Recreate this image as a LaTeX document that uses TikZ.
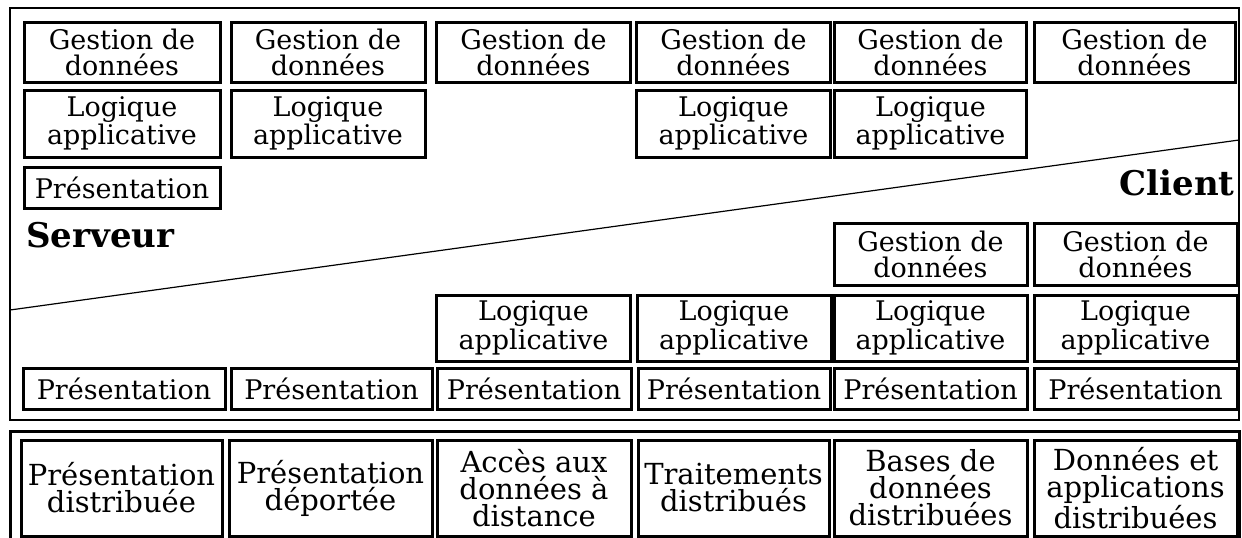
\documentclass[tikz,border=0pt]{standalone}
\usepackage{fontspec}
\setmainfont{DejaVu Serif}

\begin{document}
\begin{tikzpicture}[x=0.5pt, y=-0.5pt,
	every node/.style={inner sep=0pt, align=center, font=\fontsize{13.5}{13}\selectfont},
	tier/.style={draw, line width=1.5pt, minimum width=97pt},
	gest/.style={tier, minimum height=30pt},
	logi/.style={tier, minimum height=33.5pt},
	pres/.style={tier, minimum height=20.5pt},
	mode/.style={tier, minimum height=48pt, font=\fontsize{14.5}{13.5}\selectfont},
	side/.style={font=\fontsize{17}{20}\selectfont\bfseries}]
	\useasboundingbox (0,0) rectangle (1242,537);

	% cadre du haut et separation serveur / client
	\draw[line width=0.8pt] (10,8) rectangle (1239,420);
	\coordinate (cutL) at (10,310);
	\coordinate (cutR) at (1239,140);
	\draw[line width=0.6pt] (cutL) -- (cutR);

	\node[side, anchor=base west] (serveur) at (26,247) {Serveur};
	\node[side, anchor=base east] (client) at (1235,195) {Client};

	% cote serveur
	\begin{scope}
		\node[gest, minimum width=98pt] (g1) at (122,52) {Gestion de\\données};
		\node[gest] (g2) at (328,52) {Gestion de\\données};
		\node[gest] (g3) at (533.5,52) {Gestion de\\données};
		\node[gest] (g4) at (733.5,52) {Gestion de\\données};
		\node[gest, minimum width=96pt] (g5) at (930.5,52) {Gestion de\\données};
		\node[gest, minimum width=100.5pt] (g6) at (1134.5,52) {Gestion de\\données};
		\node[logi, minimum width=98pt] (l1) at (122,123.5) {Logique\\applicative};
		\node[logi] (l2) at (328,123.5) {Logique\\applicative};
		\node[logi] (l4) at (733.5,123.5) {Logique\\applicative};
		\node[logi, minimum width=96pt] (l5) at (930.5,123.5) {Logique\\applicative};
		\node[pres, minimum width=98pt] (p1) at (122,187.5) {Présentation};
	\end{scope}

	% cote client
	\begin{scope}
		\node[gest, minimum height=31pt, minimum width=96.5pt] (cg5) at (930.5,254) {Gestion de\\données};
		\node[gest, minimum height=31pt, minimum width=101.5pt] (cg6) at (1135.5,254) {Gestion de\\données};
		\node[logi, minimum height=33pt] (cl3) at (533.5,328) {Logique\\applicative};
		\node[logi, minimum height=33pt] (cl4) at (734,328) {Logique\\applicative};
		\node[logi, minimum height=33pt, minimum width=96.5pt] (cl5) at (930.5,328) {Logique\\applicative};
		\node[logi, minimum height=33pt, minimum width=101.5pt] (cl6) at (1135.5,328) {Logique\\applicative};
		\node[pres, minimum width=101pt] (cp1) at (124,388.5) {Présentation};
		\node[pres, minimum width=100.5pt] (cp2) at (331.5,388.5) {Présentation};
		\node[pres] (cp3) at (534,388.5) {Présentation};
		\node[pres, minimum width=96pt] (cp4) at (734,388.5) {Présentation};
		\node[pres, minimum width=96.5pt] (cp5) at (930.5,388.5) {Présentation};
		\node[pres, minimum width=101.5pt] (cp6) at (1135.5,388.5) {Présentation};
	\end{scope}

	% cadre du bas : les modeles
	\draw[line width=1.5pt] (10,545) -- (10,431) -- (1239,431) -- (1239,545);
	\begin{scope}
		\node[mode, minimum width=100.5pt] (m1) at (121.5,488) {Présentation\\distribuée};
		\node[mode, minimum width=101.5pt] (m2) at (330.5,488) {Présentation\\déportée};
		\node[mode] (m3) at (534,488) {Accès aux\\données à\\distance};
		\node[mode, minimum width=95.5pt] (m4) at (733.5,488) {Traitements\\distribués};
		\node[mode, minimum width=96.5pt] (m5) at (930.5,488) {Bases de\\données\\distribuées};
		\node[mode, minimum width=101.5pt] (m6) at (1135.5,488) {Données et\\applications\\distribuées};
	\end{scope}
\end{tikzpicture}
\end{document}
